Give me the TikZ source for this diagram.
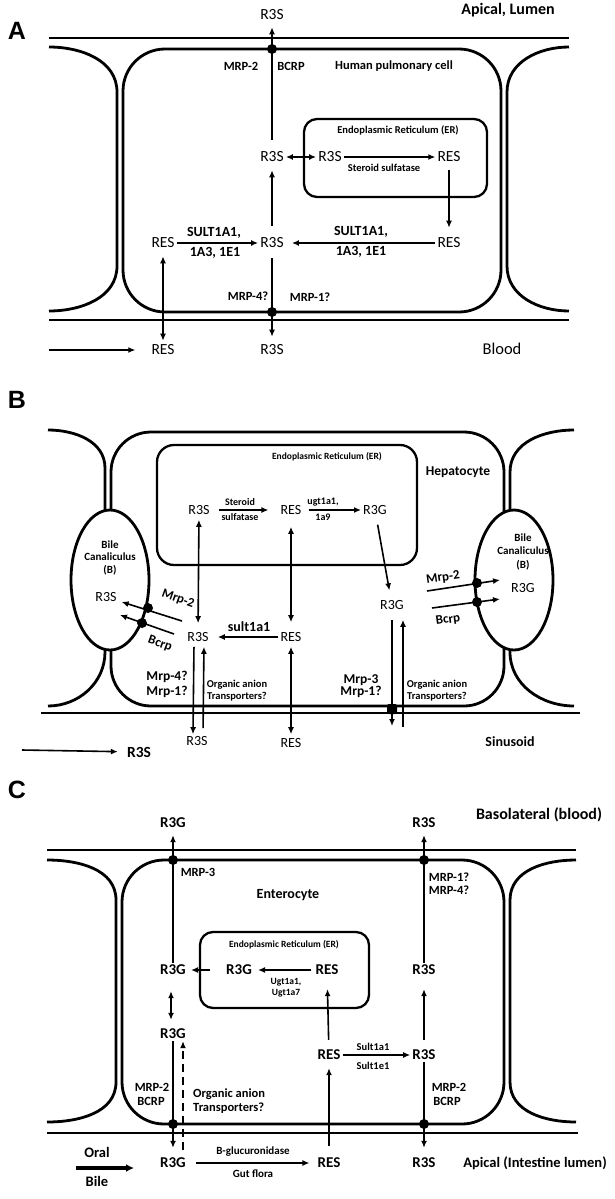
\documentclass[tikz,border=0pt]{standalone}
\usepackage{fontspec}
\setmainfont{Carlito}
\newfontfamily\panelfont{Liberation Sans}
\usetikzlibrary{arrows.meta}
\newcommand\fsz[1]{\fontsize{#1}{#1}\selectfont}
\tikzset{
  mem/.style={line width=2.8pt},
  memthin/.style={line width=2pt},
  erbox/.style={draw, line width=2.3pt, rounded corners=13pt, inner sep=0pt},
  arr/.style={line width=1.6pt, -{Latex[length=7pt,width=6pt]}},
  darr/.style={line width=1.6pt, {Latex[length=7pt,width=6pt]}-{Latex[length=7pt,width=6pt]}},
  memdot/.style={circle, fill, inner sep=0pt, minimum size=10pt},
  sp/.style={inner sep=2pt, font=\fsz{15.5}},
  spb/.style={inner sep=2pt, font=\fsz{14}},
  spc/.style={inner sep=2pt, font=\bfseries\fsz{15}},
  bl/.style={inner sep=1pt, font=\bfseries\fsz{12.5}},
  blbig/.style={inner sep=1pt, font=\bfseries\fsz{14}},
  blsm/.style={inner sep=1pt, font=\bfseries\fsz{10.5}},
  bltiny/.style={inner sep=1pt, font=\bfseries\fsz{9.5}},
  region/.style={inner sep=1pt, font=\bfseries\fsz{16}},
  panel/.style={inner sep=0pt, font=\panelfont\bfseries\fsz{25}}
}
\begin{document}
\begin{tikzpicture}[x=1pt,y=-1pt]
\useasboundingbox (0,0) rectangle (615,1199);
% ================= Panel A =================
\node[panel] (LA) at (17,31) {A};
\node[region] (apical) at (508,10) {Apical, Lumen};
\draw[mem] (49,38) -- (569,38);
\draw[mem] (49,320) -- (569,320);
\draw[mem, rounded corners=42pt] (123,49) rectangle (501,312);
\draw[mem] (49,47) to[out=0,in=90] (117,92) -- (117,266) to[out=-90,in=0] (49,311);
\draw[mem] (569,47) to[out=180,in=90] (507,92) -- (507,266) to[out=-90,in=180] (569,311);
\node[erbox, minimum width=183pt, minimum height=78pt] (erA) at (395.5,158) {};
\node[blsm] (erAt) at (398,130) {Endoplasmic Reticulum (ER)};
\node[bl] (mrp2A) at (241,66) {MRP-2};
\node[bl] (bcrpA) at (291,66) {BCRP};
\node[bl] (hpc) at (394,66) {Human pulmonary cell};
\node[sp] (A0) at (272,15) {R3S};
\node[sp] (A1) at (272,157) {R3S};
\node[sp] (A2) at (330,157) {R3S};
\node[sp] (A3) at (449,157) {RES};
\node[sp] (A4) at (272,243) {R3S};
\node[sp] (A5) at (449,243) {RES};
\node[sp] (A6) at (163,243) {RES};
\node[sp] (A7) at (272,350) {R3S};
\node[sp] (A8) at (163,350) {RES};
\node[sp, font=\fsz{16.5}] (blood) at (502,349) {Blood};
\coordinate (Ain) at (49,350);
\node[blsm] (stsA) at (384,168) {Steroid sulfatase};
\node[blbig] (sultA1) at (214,233) {SULT1A1,};
\node[blbig] (sultA2) at (215,253) {1A3, 1E1};
\node[blbig] (sultA3) at (361,232) {SULT1A1,};
\node[blbig] (sultA4) at (361,252) {1A3, 1E1};
\node[bl] (mrp4A) at (248,296) {MRP-4?};
\node[bl] (mrp1A) at (310,297) {MRP-1?};
\draw[arr, shorten <=10pt, shorten >=5pt] (A1) -- (A0);
\draw[darr] (A1) -- (A2);
\draw[arr] (A2) -- (A3);
\draw[arr, shorten <=10pt, shorten >=6pt] (A4) -- (A1);
\draw[arr, shorten <=6pt, shorten >=8pt] (A3) -- (A5);
\draw[arr] (A6) -- (A4);
\draw[arr, shorten >=6pt] (A5) -- (A4);
\draw[arr, shorten <=8pt, shorten >=6pt] (A4) -- (A7);
\draw[darr, shorten <=6pt, shorten >=2pt] (A6) -- (A8);
\draw[arr, shorten >=14pt] (Ain) -- (A8);
\node[memdot] (dA1) at (272,49) {};
\node[memdot] (dA2) at (272,312) {};
% ================= Panel B =================
\node[panel] (LB) at (17,400) {B};
\draw[mem] (48,430) to[out=0,in=90] (105,468) -- (105,652) to[out=-90,in=0] (48,706);
\draw[mem] (574,430) to[out=180,in=90] (510,472) -- (510,652) to[out=-90,in=180] (574,706);
\draw[mem, rounded corners=40pt] (111,432) rectangle (504,706);
\draw[memthin] (41,713) -- (580,713);
\draw[mem, fill=white] (110,580) ellipse [x radius=39, y radius=70];
\draw[mem, fill=white] (514,580) ellipse [x radius=39, y radius=70];
\node[erbox, minimum width=260pt, minimum height=120pt, rounded corners=17pt] (erB) at (287,505) {};
\node[bltiny] (erBt) at (327,457) {Endoplasmic Reticulum (ER)};
\node[blbig, font=\bfseries\fsz{13.5}] (hep) at (458,472) {Hepatocyte};
\node[blsm, font=\bfseries\fsz{11}] (bc1a) at (110,545) {Bile};
\node[blsm, font=\bfseries\fsz{11}] (bc1b) at (110,557) {Canaliculus};
\node[blsm, font=\bfseries\fsz{11}] (bc1c) at (110,570) {(B)};
\node[blsm, font=\bfseries\fsz{11}] (bc2a) at (523,538) {Bile};
\node[blsm, font=\bfseries\fsz{11}] (bc2b) at (523,551) {Canaliculus};
\node[blsm, font=\bfseries\fsz{11}] (bc2c) at (523,565) {(B)};
\node[spb] (B1) at (199,510) {R3S};
\node[spb] (B2) at (291,510) {RES};
\node[spb] (B3) at (375,510) {R3G};
\node[spb] (B4) at (198,637) {R3S};
\node[spb] (B5) at (291,637) {RES};
\node[spb] (B6) at (392,605) {R3G};
\node[spb] (B7) at (106,597) {R3S};
\node[spb] (B8) at (523,588) {R3G};
\node[spb] (B9) at (197,741) {R3S};
\node[spb] (B10) at (291,743) {RES};
\node[spc, font=\bfseries\fsz{15.5}] (B11) at (139,752) {R3S};
\node[blsm, font=\bfseries\fsz{10}] (stB1) at (240,502) {Steroid};
\node[blsm, font=\bfseries\fsz{10}] (stB2) at (240,517) {sulfatase};
\node[blsm, font=\bfseries\fsz{10}] (ugB1) at (323,502) {ugt1a1,};
\node[blsm, font=\bfseries\fsz{10}] (ugB2) at (323,517) {1a9};
\node[blbig] (sultB) at (249,627) {sult1a1};
\node[blbig, font=\bfseries\fsz{13.5}] (mrp4B) at (167,677) {Mrp-4?};
\node[blbig, font=\bfseries\fsz{13.5}] (mrp1B) at (167,692) {Mrp-1?};
\node[blsm] (oat1a) at (237,685) {Organic anion};
\node[blsm] (oat1b) at (237,697) {Transporters?};
\node[blbig, font=\bfseries\fsz{13.5}] (mrp3B) at (361,680) {Mrp-3};
\node[blbig, font=\bfseries\fsz{13.5}] (mrp1Bb) at (361,692) {Mrp-1?};
\node[blsm] (oat2a) at (437,685) {Organic anion};
\node[blsm] (oat2b) at (437,697) {Transporters?};
\node[blbig] (sinus) at (510,742) {Sinusoid};
\node[blbig, font=\bfseries\fsz{13}, rotate=-20] (mrp2Bl) at (178,599) {Mrp-2};
\node[blbig, font=\bfseries\fsz{13}, rotate=-20] (bcrpBl) at (160,644) {Bcrp};
\node[blbig, font=\bfseries\fsz{13}, rotate=8] (mrp2Br) at (443,578) {Mrp-2};
\node[blbig, font=\bfseries\fsz{13}, rotate=8] (bcrpBr) at (448,620) {Bcrp};
\coordinate (m2ls) at (182,621);
\coordinate (bcls) at (174,634);
\coordinate (bclt) at (120,615);
\coordinate (m2rs) at (427,591);
\coordinate (m2rt) at (500,580);
\coordinate (bcrs) at (432,608);
\coordinate (bcrt) at (500,599);
\coordinate (B6d) at (392,726);
\coordinate (B6u) at (403,727);
\coordinate (Bin) at (22,750);
\draw[arr, shorten <=7pt, shorten >=10pt] (B1) -- (B2);
\draw[arr, shorten <=5pt] (B2) -- (B3);
\draw[darr, shorten <=3pt, shorten >=7pt] (B1) -- (B4);
\draw[darr, shorten <=10pt, shorten >=8pt] (B2) -- (B5);
\draw[arr, shorten >=7pt] (B5) -- (B4);
\draw[arr, shorten <=8pt, shorten >=8pt] (B3) -- (B6);
\draw[arr, shorten >=3pt] (m2ls) -- (B7);
\draw[arr] (bcls) -- (bclt);
\draw[arr] (m2rs) -- (m2rt);
\draw[arr] (bcrs) -- (bcrt);
\draw[arr, shorten <=3pt] ([xshift=-4pt]B4.south) -- ([xshift=-4pt]B9.north);
\draw[arr, shorten <=6pt, shorten >=3pt] ([xshift=6pt]B9.north) -- ([xshift=6pt]B4.south);
\draw[darr, shorten <=3pt, shorten >=2pt] (B5) -- (B10);
\draw[arr, shorten <=8pt] (B6.south) -- (B6d);
\draw[arr, shorten >=8pt] (B6u) -- ([xshift=11pt]B6.south);
\draw[arr, shorten >=7pt] (Bin) -- (B11);
\node[memdot] (dB1) at (148,608) {};
\node[memdot] (dB2) at (142,623) {};
\node[memdot] (dB3) at (477,583) {};
\node[memdot] (dB4) at (477,602) {};
\node[memdot, rectangle, rounded corners=2pt] (dB5) at (392,709) {};
% ================= Panel C =================
\node[panel] (LC) at (17,790) {C};
\node[region] (baso) at (539,815) {Basolateral (blood)};
\draw[mem] (47,850) -- (576,850);
\draw[memthin] (47,1133) -- (578,1133);
\draw[mem, rounded corners=42pt] (122,860) rectangle (504,1124);
\draw[mem] (47,860) to[out=0,in=90] (116,900) -- (116,1082) to[out=-90,in=0] (47,1122);
\draw[mem] (576,860) to[out=180,in=90] (510,900) -- (510,1082) to[out=-90,in=180] (576,1122);
\node[erbox, minimum width=169pt, minimum height=76pt] (erC) at (284.5,970) {};
\node[bltiny] (erCt) at (284,945) {Endoplasmic Reticulum (ER)};
\node[bl] (mrp3C) at (198,872) {MRP-3};
\node[bl] (mrp1C) at (449,877) {MRP-1?};
\node[bl] (mrp4C) at (449,890) {MRP-4?};
\node[blbig] (ent) at (288,895) {Enterocyte};
\node[spc] (C1) at (173,823) {R3G};
\node[spc] (C2) at (424,823) {R3S};
\node[spc] (C3) at (173,970) {R3G};
\node[spc] (C4) at (239,970) {R3G};
\node[spc] (C5) at (327,970) {RES};
\node[spc] (C6) at (424,970) {R3S};
\node[spc] (C7) at (173,1034) {R3G};
\node[spc] (C8) at (329,1055) {RES};
\node[spc] (C9) at (424,1055) {R3S};
\node[spc] (C10) at (424,1163) {R3S};
\node[spc] (C11) at (173,1163) {R3G};
\node[spc] (C12) at (329,1163) {RES};
\node[region, font=\bfseries\fsz{14.5}] (apC) at (535,1163) {Apical (Intestine lumen)};
\node[bltiny] (ugC1) at (286,982) {Ugt1a1,};
\node[bltiny] (ugC2) at (286,993) {Ugt1a7};
\node[blsm] (suC1) at (373,1047) {Sult1a1};
\node[blsm] (suC2) at (373,1066) {Sult1e1};
\node[bl] (mrp2C1) at (152,1087) {MRP-2};
\node[bl] (bcrpC1) at (151,1101) {BCRP};
\node[bl] (mrp2C2) at (449,1087) {MRP-2};
\node[bl] (bcrpC2) at (447,1101) {BCRP};
\node[bl, anchor=west] (oatC1) at (192,1094) {Organic anion};
\node[bl, anchor=west] (oatC2) at (192,1108) {Transporters?};
\node[blsm, font=\bfseries\fsz{11}] (bgl) at (253,1152) {B-glucuronidase};
\node[blsm, font=\bfseries\fsz{11}] (gut) at (253,1174) {Gut flora};
\node[blbig, font=\bfseries\fsz{14.5}] (oral) at (97,1152) {Oral};
\node[blbig, font=\bfseries\fsz{14.5}] (bile) at (97,1181) {Bile};
\coordinate (orS) at (76,1168);
\coordinate (orE) at (134,1168);
\draw[line width=3.2pt, -{Latex[length=8pt,width=8pt]}] (orS) -- (orE);
\draw[arr, shorten >=5pt] (C3) -- (C1);
\draw[arr, shorten >=5pt] (C6) -- (C2);
\draw[arr, shorten <=14pt, shorten >=3pt] (C4) -- (C3);
\draw[arr, shorten <=2pt, shorten >=4pt] (C5) -- (C4);
\draw[darr, shorten <=14pt, shorten >=7pt] ([xshift=-2pt]C3.south) -- ([xshift=-2pt]C7.north);
\draw[arr, shorten >=8pt] (C7) -- (C11);
\draw[arr, dash pattern=on 8pt off 5pt, shorten <=6pt] ([xshift=10pt]C11.north) -- ([xshift=10pt]C7.south);
\draw[arr, shorten <=8pt, shorten >=12pt] (C8) -- (C5);
\draw[arr] (C8) -- (C9);
\draw[arr, shorten <=8pt, shorten >=12pt] (C9) -- (C6);
\draw[arr, shorten >=8pt] (C9) -- (C10);
\draw[arr, shorten <=8pt, shorten >=6pt] (C11) -- (C12);
\draw[arr, shorten <=10pt, shorten >=6pt] (C12) -- (C8);
\node[memdot] (dC1) at (173,860) {};
\node[memdot] (dC2) at (424,860) {};
\node[memdot] (dC3) at (173,1124) {};
\node[memdot] (dC4) at (424,1124) {};
\end{tikzpicture}
\end{document}
